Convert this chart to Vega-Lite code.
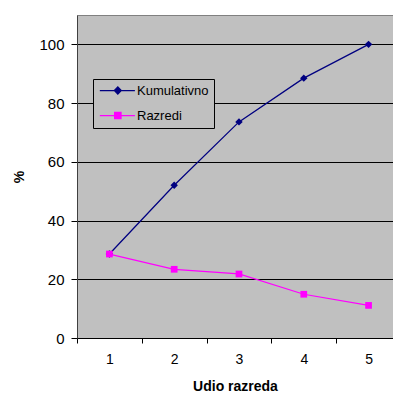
{
  "$schema": "https://vega.github.io/schema/vega-lite/v6.json",
  "width": 316,
  "height": 323,
  "autosize": {"type": "none"},
  "padding": {"left": 77, "top": 15, "right": 0, "bottom": 56},
  "background": "white",
  "config": {
    "font": "Liberation Sans",
    "view": {"fill": "#C0C0C0", "stroke": "#808080", "strokeWidth": 1},
    "legend": {
      "orient": "none",
      "legendX": 16,
      "legendY": 64,
      "title": null,
      "fillColor": "#C0C0C0",
      "strokeColor": "black",
      "strokeWidth": 1,
      "cornerRadius": 0,
      "padding": 5,
      "symbolSize": 64,
      "symbolStrokeWidth": 1.25,
      "symbolOpacity": 1,
      "labelFontSize": 13,
      "labelColor": "black",
      "labelOffset": 26,
      "rowPadding": 11,
      "direction": "vertical"
    }
  },
  "data": {
    "values": [
      {"udio": 1, "serija": "Kumulativno", "v": 28.6},
      {"udio": 2, "serija": "Kumulativno", "v": 52.0},
      {"udio": 3, "serija": "Kumulativno", "v": 73.6},
      {"udio": 4, "serija": "Kumulativno", "v": 88.5},
      {"udio": 5, "serija": "Kumulativno", "v": 100},
      {"udio": 1, "serija": "Razredi", "v": 28.6},
      {"udio": 2, "serija": "Razredi", "v": 23.4},
      {"udio": 3, "serija": "Razredi", "v": 21.8},
      {"udio": 4, "serija": "Razredi", "v": 14.9},
      {"udio": 5, "serija": "Razredi", "v": 11.1}
    ]
  },
  "encoding": {
    "x": {
      "field": "udio",
      "type": "quantitative",
      "scale": {"domain": [0.5, 5.377], "nice": false, "zero": false},
      "axis": {
        "values": [1, 2, 3, 4, 5],
        "grid": false,
        "tickOffset": -32.4,
        "labelOffset": 32.4,
        "tickSize": 5,
        "tickColor": "black",
        "domainColor": "black",
        "labelFontSize": 14,
        "labelColor": "black",
        "labelPadding": 9,
        "title": "Udio razreda",
        "titleFontSize": 14,
        "titleFontWeight": "bold",
        "titleColor": "black",
        "titlePadding": 13
      }
    },
    "y": {
      "field": "v",
      "type": "quantitative",
      "scale": {"domain": [0, 110], "nice": false},
      "axis": {
        "values": [0, 20, 40, 60, 80, 100],
        "grid": true,
        "gridColor": "black",
        "gridOpacity": 1,
        "tickSize": 6,
        "tickColor": "black",
        "domainColor": "#404040",
        "labelFontSize": 15,
        "labelColor": "black",
        "labelPadding": 7,
        "title": "%",
        "titleFontSize": 14,
        "titleFontWeight": "bold",
        "titleColor": "black",
        "titlePadding": 12
      }
    }
  },
  "layer": [
    {
      "transform": [{"filter": "datum.serija === 'Kumulativno'"}],
      "mark": {"type": "line", "color": "#000080", "strokeWidth": 1.25}
    },
    {
      "transform": [{"filter": "datum.serija === 'Kumulativno'"}],
      "mark": {"type": "point", "shape": "diamond", "filled": true, "color": "#000080", "size": 55, "opacity": 1}
    },
    {
      "transform": [{"filter": "datum.serija === 'Razredi'"}],
      "mark": {"type": "line", "color": "#FF00FF", "strokeWidth": 1.25}
    },
    {
      "transform": [{"filter": "datum.serija === 'Razredi'"}],
      "mark": {"type": "point", "shape": "square", "filled": true, "color": "#FF00FF", "size": 45, "opacity": 1}
    },
    {
      "mark": {"type": "point", "filled": true, "opacity": 0},
      "encoding": {
        "color": {
          "field": "serija",
          "type": "nominal",
          "scale": {"domain": ["Kumulativno", "Razredi"], "range": ["#000080", "#FF00FF"]}
        },
        "stroke": {
          "field": "serija",
          "type": "nominal",
          "scale": {"domain": ["Kumulativno", "Razredi"], "range": ["#000080", "#FF00FF"]}
        },
        "shape": {
          "field": "serija",
          "type": "nominal",
          "scale": {
            "domain": ["Kumulativno", "Razredi"],
            "range": [
              "M-1.17,0H7.6M3.33,-0.9L4.2,0L3.33,0.9L2.46,0Z",
              "M-1.17,0H7.6M2.53,-0.8H4.13V0.8H2.53Z"
            ]
          }
        }
      }
    }
  ]
}
